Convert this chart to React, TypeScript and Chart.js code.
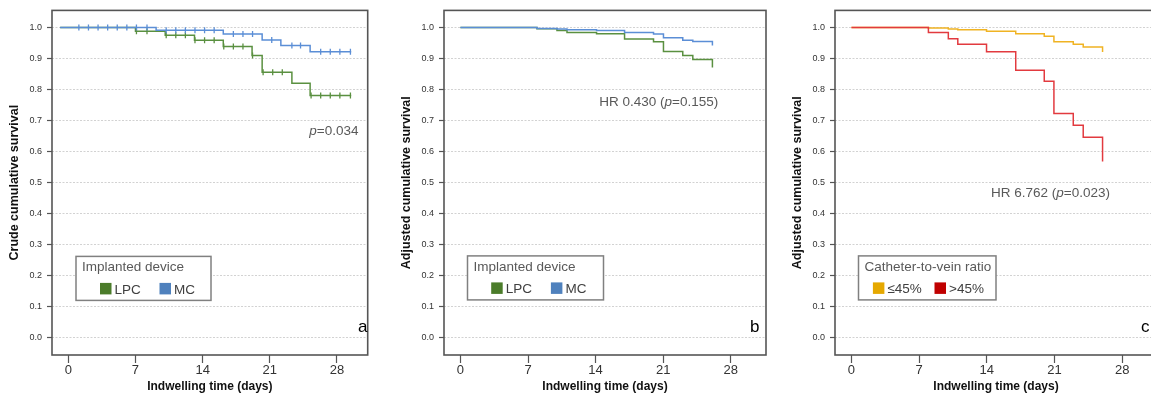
import { useEffect, useRef } from "react";
import { Chart, registerables } from "chart.js";

Chart.register(...registerables);

const FONT = '"Liberation Sans", Arial, Helvetica, sans-serif';
Chart.defaults.font.family = FONT;

// ---- axis ticks ----
const yTicks = [0, 0.1, 0.2, 0.3, 0.4, 0.5, 0.6, 0.7, 0.8, 0.9, 1.0];
const xTicks = [0, 7, 14, 21, 28];

// ---- panel a: crude survival ----
const aMcTimes = [-0.85, 9.15, 16.15, 20.2, 22.15, 25.2, 29.48];
const aMcSurv = [1.0, 0.991, 0.979, 0.96, 0.942, 0.922, 0.922];
const aMcCensor = [1.1, 2.1, 3.1, 4.1, 5.1, 6.1, 7.1, 8.2, 10.2, 11.2, 12.2, 13.2, 14.2, 15.2, 17.2, 18.2, 19.2, 21.2, 23.3, 24.2, 26.3, 27.3, 28.3, 29.4];
const aLpcTimes = [-0.85, 7.0, 10.1, 13.15, 16.15, 19.15, 20.2, 23.3, 25.2, 29.48];
const aLpcSurv = [1.0, 0.988, 0.975, 0.959, 0.939, 0.91, 0.856, 0.82, 0.781, 0.781];
const aLpcCensor = [7.1, 8.2, 10.2, 11.2, 12.2, 13.2, 14.2, 15.2, 16.2, 17.2, 18.2, 19.2, 20.3, 21.3, 22.3, 25.3, 26.3, 27.3, 28.3, 29.4];

// ---- panel b: adjusted survival by device ----
const bTimes = [0, 7.93, 10.0, 11.04, 14.1, 17.0, 20.0, 21.03, 23.03, 24.07, 26.1];
const bMcSurv = [1.0, 0.997, 0.995, 0.993, 0.99, 0.984, 0.979, 0.967, 0.959, 0.955, 0.942];
const bLpcSurv = [1.0, 0.996, 0.99, 0.984, 0.98, 0.963, 0.954, 0.923, 0.91, 0.897, 0.871];

// ---- panel c: adjusted survival by catheter-to-vein ratio ----
const cTimes = [0, 7.96, 10.02, 11.0, 13.97, 16.99, 19.94, 20.94, 22.94, 23.97, 25.97];
const cLowSurv = [1.0, 0.998, 0.995, 0.993, 0.988, 0.98, 0.972, 0.954, 0.946, 0.937, 0.921];
const cHighSurv = [1.0, 0.984, 0.964, 0.946, 0.922, 0.862, 0.827, 0.723, 0.685, 0.646, 0.568];

const COL = {
  mcLine: "#5b8ed6",
  lpcLine: "#5a9040",
  lowLine: "#f0b323",
  highLine: "#e23a3f",
  mcSw: "#4f81bd",
  lpcSw: "#4b7c2a",
  lowSw: "#e5a800",
  highSw: "#c00000",
};

function toPts(times: number[], vals: number[]) {
  return times.map((t, i) => ({ x: t, y: vals[i] }));
}
function survAt(times: number[], vals: number[], t: number) {
  let v = vals[0];
  for (let i = 0; i < times.length; i++) if (times[i] <= t) v = vals[i];
  return v;
}
function censorPts(times: number[], vals: number[], cens: number[]) {
  return cens.map((t) => ({ x: t, y: survAt(times, vals, t) }));
}

function lineDs(label: string, data: any[], color: string) {
  return {
    label,
    data,
    borderColor: color,
    backgroundColor: color,
    borderWidth: 1.5,
    pointRadius: 0,
    stepped: "before" as const,
    fill: false,
  };
}
function censorDs(label: string, data: any[], color: string) {
  return {
    label,
    data,
    showLine: false,
    pointStyle: "line" as const,
    rotation: 90,
    pointRadius: 3,
    pointBorderWidth: 1.3,
    pointBorderColor: color,
    borderColor: color,
    backgroundColor: color,
  };
}

type Seg = { t: string; i?: boolean };
type Deco = {
  legend: { dx: number; dy: number; w: number; h: number; title: string; items: { label: string; color: string; dx: number }[] };
  note: { dx: number; dy: number; segs: Seg[] };
  letter: string;
};

function makeDeco(cfg: Deco) {
  return {
    id: "deco",
    afterDraw(chart: any) {
      const { ctx, chartArea: a } = chart;
      ctx.save();
      // frame
      ctx.strokeStyle = "#555555";
      ctx.lineWidth = 1.6;
      ctx.strokeRect(a.left, a.top, a.right - a.left, a.bottom - a.top);
      // legend box
      const L = cfg.legend;
      const bx = a.left + L.dx;
      const by = a.top + L.dy;
      ctx.fillStyle = "#ffffff";
      ctx.fillRect(bx, by, L.w, L.h);
      ctx.strokeStyle = "#808080";
      ctx.lineWidth = 1.5;
      ctx.strokeRect(bx, by, L.w, L.h);
      ctx.font = `13.5px ${FONT}`;
      ctx.textBaseline = "alphabetic";
      ctx.textAlign = "left";
      ctx.fillStyle = "#595959";
      ctx.fillText(L.title, bx + 6, by + 14.8);
      L.items.forEach((it) => {
        ctx.fillStyle = it.color;
        ctx.fillRect(bx + it.dx, by + 26.5, 11.5, 11.5);
        ctx.fillStyle = "#404040";
        ctx.fillText(it.label, bx + it.dx + 14.5, by + 37.3);
      });
      // annotation
      let x = a.left + cfg.note.dx;
      const y = a.top + cfg.note.dy;
      ctx.fillStyle = "#595959";
      cfg.note.segs.forEach((s) => {
        ctx.font = `${s.i ? "italic " : ""}13.5px ${FONT}`;
        ctx.fillText(s.t, x, y);
        x += ctx.measureText(s.t).width;
      });
      // panel letter
      ctx.font = `17px ${FONT}`;
      ctx.fillStyle = "#000000";
      ctx.fillText(cfg.letter, a.left + 306, a.top + 321.5);
      ctx.restore();
    },
  };
}

function makeOptions(xMax: number, yTitle: string, padRight: number) {
  return {
    responsive: false,
    animation: false as const,
    events: [] as any[],
    layout: { padding: { left: 0, right: padRight, top: 8, bottom: 0 } },
    plugins: { legend: { display: false }, tooltip: { enabled: false } },
    scales: {
      x: {
        type: "linear" as const,
        min: -1.7,
        max: xMax,
        afterBuildTicks: (s: any) => {
          s.ticks = xTicks.map((v) => ({ value: v }));
        },
        afterFit: (s: any) => {
          s.height = 41;
        },
        grid: { drawOnChartArea: false, drawTicks: true, tickLength: 8, tickColor: "#555555", tickWidth: 1.2 },
        border: { display: false },
        ticks: { font: { size: 13 }, color: "#333333", padding: 0, maxRotation: 0, autoSkip: false, callback: (v: any) => String(v) },
        title: { display: true, text: "Indwelling time (days)", font: { size: 12, weight: "bold" as const }, color: "#111111", padding: { top: 0, bottom: 2.5 } },
      },
      y: {
        type: "linear" as const,
        min: -0.055,
        max: 1.055,
        afterBuildTicks: (s: any) => {
          s.ticks = yTicks.map((v) => ({ value: v }));
        },
        afterFit: (s: any) => {
          s.width = 52;
        },
        grid: { color: "#d2d2d2", lineWidth: 1, drawTicks: true, tickLength: 5, tickColor: "#555555", tickWidth: 1.2 },
        border: { display: false, dash: [2, 1.5] },
        ticks: { font: { size: 9 }, color: "#333333", padding: 5, autoSkip: false, callback: (v: any) => Number(v).toFixed(1) },
        title: { display: true, text: yTitle, font: { size: 12.5, weight: "bold" as const }, color: "#111111", padding: { top: 7, bottom: 0 } },
      },
    },
  };
}

type PanelProps = { left: number; width: number; build: () => any };

function Panel({ left, width, build }: PanelProps) {
  const ref = useRef<HTMLCanvasElement | null>(null);
  useEffect(() => {
    if (!ref.current) return;
    const chart = new Chart(ref.current, build());
    return () => chart.destroy();
  }, []);
  return (
    <div style={{ position: "absolute", left, top: 0, width, height: 396 }}>
      <canvas ref={ref} width={width} height={396} style={{ display: "block", width, height: 396 }} />
    </div>
  );
}

const buildA = () => ({
  type: "line",
  data: {
    datasets: [
      censorDs("MC censored", censorPts(aMcTimes, aMcSurv, aMcCensor), COL.mcLine),
      lineDs("MC", toPts(aMcTimes, aMcSurv), COL.mcLine),
      censorDs("LPC censored", censorPts(aLpcTimes, aLpcSurv, aLpcCensor), COL.lpcLine),
      lineDs("LPC", toPts(aLpcTimes, aLpcSurv), COL.lpcLine),
    ],
  },
  options: makeOptions(31.2, "Crude cumulative survival", 2),
  plugins: [
    makeDeco({
      legend: {
        dx: 24, dy: 246, w: 135, h: 44, title: "Implanted device",
        items: [
          { label: "LPC", color: COL.lpcSw, dx: 24 },
          { label: "MC", color: COL.mcSw, dx: 83.5 },
        ],
      },
      note: { dx: 257.3, dy: 124.5, segs: [{ t: "p", i: true }, { t: "=0.034" }] },
      letter: "a",
    }),
  ],
});

const buildB = () => ({
  type: "line",
  data: {
    datasets: [
      lineDs("MC", toPts(bTimes, bMcSurv), COL.mcLine),
      lineDs("LPC", toPts(bTimes, bLpcSurv), COL.lpcLine),
    ],
  },
  options: makeOptions(31.65, "Adjusted cumulative survival", 2),
  plugins: [
    makeDeco({
      legend: {
        dx: 23.5, dy: 245.5, w: 136, h: 44, title: "Implanted device",
        items: [
          { label: "LPC", color: COL.lpcSw, dx: 23.7 },
          { label: "MC", color: COL.mcSw, dx: 83.4 },
        ],
      },
      note: { dx: 155.3, dy: 95.5, segs: [{ t: "HR 0.430 (" }, { t: "p", i: true }, { t: "=0.155)" }] },
      letter: "b",
    }),
  ],
});

const buildC = () => ({
  type: "line",
  data: {
    datasets: [
      lineDs(">45%", toPts(cTimes, cHighSurv), COL.highLine),
      lineDs("≤45%", toPts(cTimes, cLowSurv), COL.lowLine),
    ],
  },
  options: makeOptions(31.6, "Adjusted cumulative survival", 2),
  plugins: [
    makeDeco({
      legend: {
        dx: 23.5, dy: 245.5, w: 137.5, h: 44, title: "Catheter-to-vein ratio",
        items: [
          { label: "≤45%", color: COL.lowSw, dx: 14.4 },
          { label: ">45%", color: COL.highSw, dx: 76 },
        ],
      },
      note: { dx: 156, dy: 187, segs: [{ t: "HR 6.762 (" }, { t: "p", i: true }, { t: "=0.023)" }] },
      letter: "c",
    }),
  ],
});

export default function App() {
  return (
    <div style={{ position: "absolute", left: 0, top: 0, width: 1151, height: 396, overflow: "hidden", background: "#ffffff" }}>
      <Panel left={0} width={373} build={buildA} />
      <Panel left={392} width={376} build={buildB} />
      <Panel left={783} width={376} build={buildC} />
    </div>
  );
}
